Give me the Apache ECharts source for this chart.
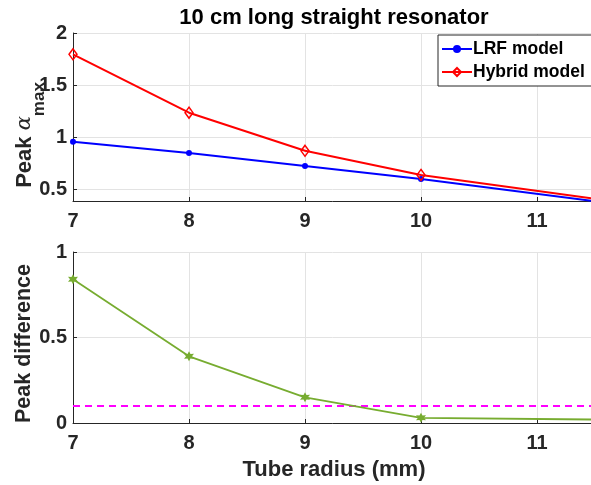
<!DOCTYPE html>
<html>
<head>
<meta charset="utf-8">
<script src="https://cdn.jsdelivr.net/npm/echarts@6/dist/echarts.min.js"></script>
<style>
html,body{margin:0;padding:0;background:#fff;}
#chart{width:591px;height:485px;}
</style>
</head>
<body>
<div id="chart"></div>
<script>
// ---- data ----
const radius = [7, 8, 9, 10, 12];
const lrfPeak = [0.955, 0.846, 0.721, 0.596, 0.31];
const hybridPeak = [1.795, 1.234, 0.868, 0.635, 0.33];
const diffPeak = [0.84, 0.39, 0.15, 0.03, 0.017];
const thresholdX = [7, 12];
const thresholdY = [0.1, 0.1];
const xTicks = [7, 8, 9, 10, 11];
const topYTicks = [0.5, 1, 1.5, 2];
const bottomYTicks = [0, 0.5, 1];

const FONT = 'Liberation Sans, Arial, Helvetica, sans-serif';
const AX = '#262626';
const GRIDC = '#e3e3e3';
const pairs = (xs, ys) => xs.map((x, i) => [x, ys[i]]);
const starPath = 'path://M0,-10 L2.6,-4.5 L8.7,-5 L5.2,0 L8.7,5 L2.6,4.5 L0,10 L-2.6,4.5 L-8.7,5 L-5.2,0 L-8.7,-5 L-2.6,-4.5 Z';

function xAxisDef(gi) {
  return {
    type: 'value', gridIndex: gi, min: 7, max: 11.5,
    axisLine: {show: true, onZero: false, lineStyle: {color: AX, width: 1}},
    axisTick: {show: true, inside: true, length: 4, lineStyle: {color: AX}, customValues: xTicks},
    axisLabel: {customValues: xTicks, color: AX, fontFamily: FONT, fontWeight: 'bold', fontSize: 20, margin: 10},
    splitLine: {show: true, lineStyle: {color: GRIDC, width: 1}},
    name: gi === 1 ? 'Tube radius (mm)' : '',
    nameLocation: 'middle', nameGap: 36,
    nameTextStyle: {color: AX, fontFamily: FONT, fontWeight: 'bold', fontSize: 22}
  };
}

const option = {
  backgroundColor: '#fff',
  animation: false,
  title: {
    text: '10 cm long straight resonator', left: 329, top: 2, textAlign: 'center',
    textStyle: {color: '#000', fontFamily: FONT, fontWeight: 'bold', fontSize: 22}
  },
  legend: {
    orient: 'vertical', left: 438, top: 35,
    data: ['LRF model', 'Hybrid model'],
    backgroundColor: '#fff', borderColor: AX, borderWidth: 1,
    padding: [5, 40, 5, 3], itemGap: 5, itemWidth: 30, itemHeight: 10,
    textStyle: {color: '#000', fontFamily: FONT, fontWeight: 'bold', fontSize: 17.5, padding: [0, 0, 0, -4]}
  },
  grid: [
    {left: 73, top: 33, width: 522, height: 168, outerBoundsMode: 'none', containLabel: false},
    {left: 73, top: 252, width: 522, height: 171, outerBoundsMode: 'none', containLabel: false}
  ],
  xAxis: [xAxisDef(0), xAxisDef(1)],
  yAxis: [
    {
      type: 'value', gridIndex: 0, min: 0.385, max: 2,
      axisLine: {show: true, lineStyle: {color: AX, width: 1}},
      axisTick: {show: true, inside: true, length: 4, lineStyle: {color: AX}, customValues: topYTicks},
      axisLabel: {customValues: topYTicks, color: AX, fontFamily: FONT, fontWeight: 'bold', fontSize: 20, margin: 6},
      splitLine: {show: true, lineStyle: {color: GRIDC, width: 1}},
      name: '{a|Peak }{b|α}{c|max}', nameLocation: 'middle', nameGap: 25, nameRotate: 90,
      nameMoveOverlap: false,
      nameTextStyle: {
        color: AX,
        padding: [0, 36, 0, 0],
        rich: {
          a: {fontFamily: FONT, fontWeight: 'bold', fontSize: 22, color: AX, lineHeight: 26, verticalAlign: 'top'},
          b: {fontFamily: 'DejaVu Serif, serif', fontStyle: 'italic', fontSize: 21, color: AX, lineHeight: 26, verticalAlign: 'top'},
          c: {fontFamily: FONT, fontWeight: 'bold', fontSize: 17, color: AX, lineHeight: 34, verticalAlign: 'bottom'}
        }
      }
    },
    {
      type: 'value', gridIndex: 1, min: 0, max: 1, interval: 0.5,
      axisLine: {show: true, lineStyle: {color: AX, width: 1}},
      axisTick: {show: true, inside: true, length: 4, lineStyle: {color: AX}},
      axisLabel: {color: AX, fontFamily: FONT, fontWeight: 'bold', fontSize: 20, margin: 6},
      splitLine: {show: true, lineStyle: {color: GRIDC, width: 1}},
      name: 'Peak difference', nameLocation: 'middle', nameGap: 38, nameRotate: 90,
      nameMoveOverlap: false,
      nameTextStyle: {color: AX, fontFamily: FONT, fontWeight: 'bold', fontSize: 21.5, padding: [0, 12, 0, 0]}
    }
  ],
  series: [
    {
      name: 'LRF model', type: 'line', xAxisIndex: 0, yAxisIndex: 0,
      data: pairs(radius, lrfPeak), clip: true,
      symbol: 'circle', symbolSize: 6, showAllSymbol: true,
      itemStyle: {color: '#0000ff'},
      lineStyle: {color: '#0000ff', width: 2}
    },
    {
      name: 'Hybrid model', type: 'line', xAxisIndex: 0, yAxisIndex: 0,
      data: pairs(radius, hybridPeak), clip: true,
      symbol: 'diamond', symbolSize: [8, 11],
      itemStyle: {color: 'rgba(255,255,255,0)', borderColor: '#ff0000', borderWidth: 1.5},
      lineStyle: {color: '#ff0000', width: 2}
    },
    {
      name: 'threshold', type: 'line', xAxisIndex: 1, yAxisIndex: 1,
      data: pairs(thresholdX, thresholdY), clip: true,
      symbol: 'none',
      lineStyle: {color: '#ff00ff', width: 2, type: [7, 5]}
    },
    {
      name: 'diff', type: 'line', xAxisIndex: 1, yAxisIndex: 1,
      data: pairs(radius, diffPeak), clip: true,
      symbol: starPath, symbolSize: 10,
      itemStyle: {color: '#77ac30'},
      lineStyle: {color: '#77ac30', width: 1.8}
    }
  ]
};

const chart = echarts.init(document.getElementById('chart'), null, {renderer: 'canvas'});
chart.setOption(option);
</script>
</body>
</html>
